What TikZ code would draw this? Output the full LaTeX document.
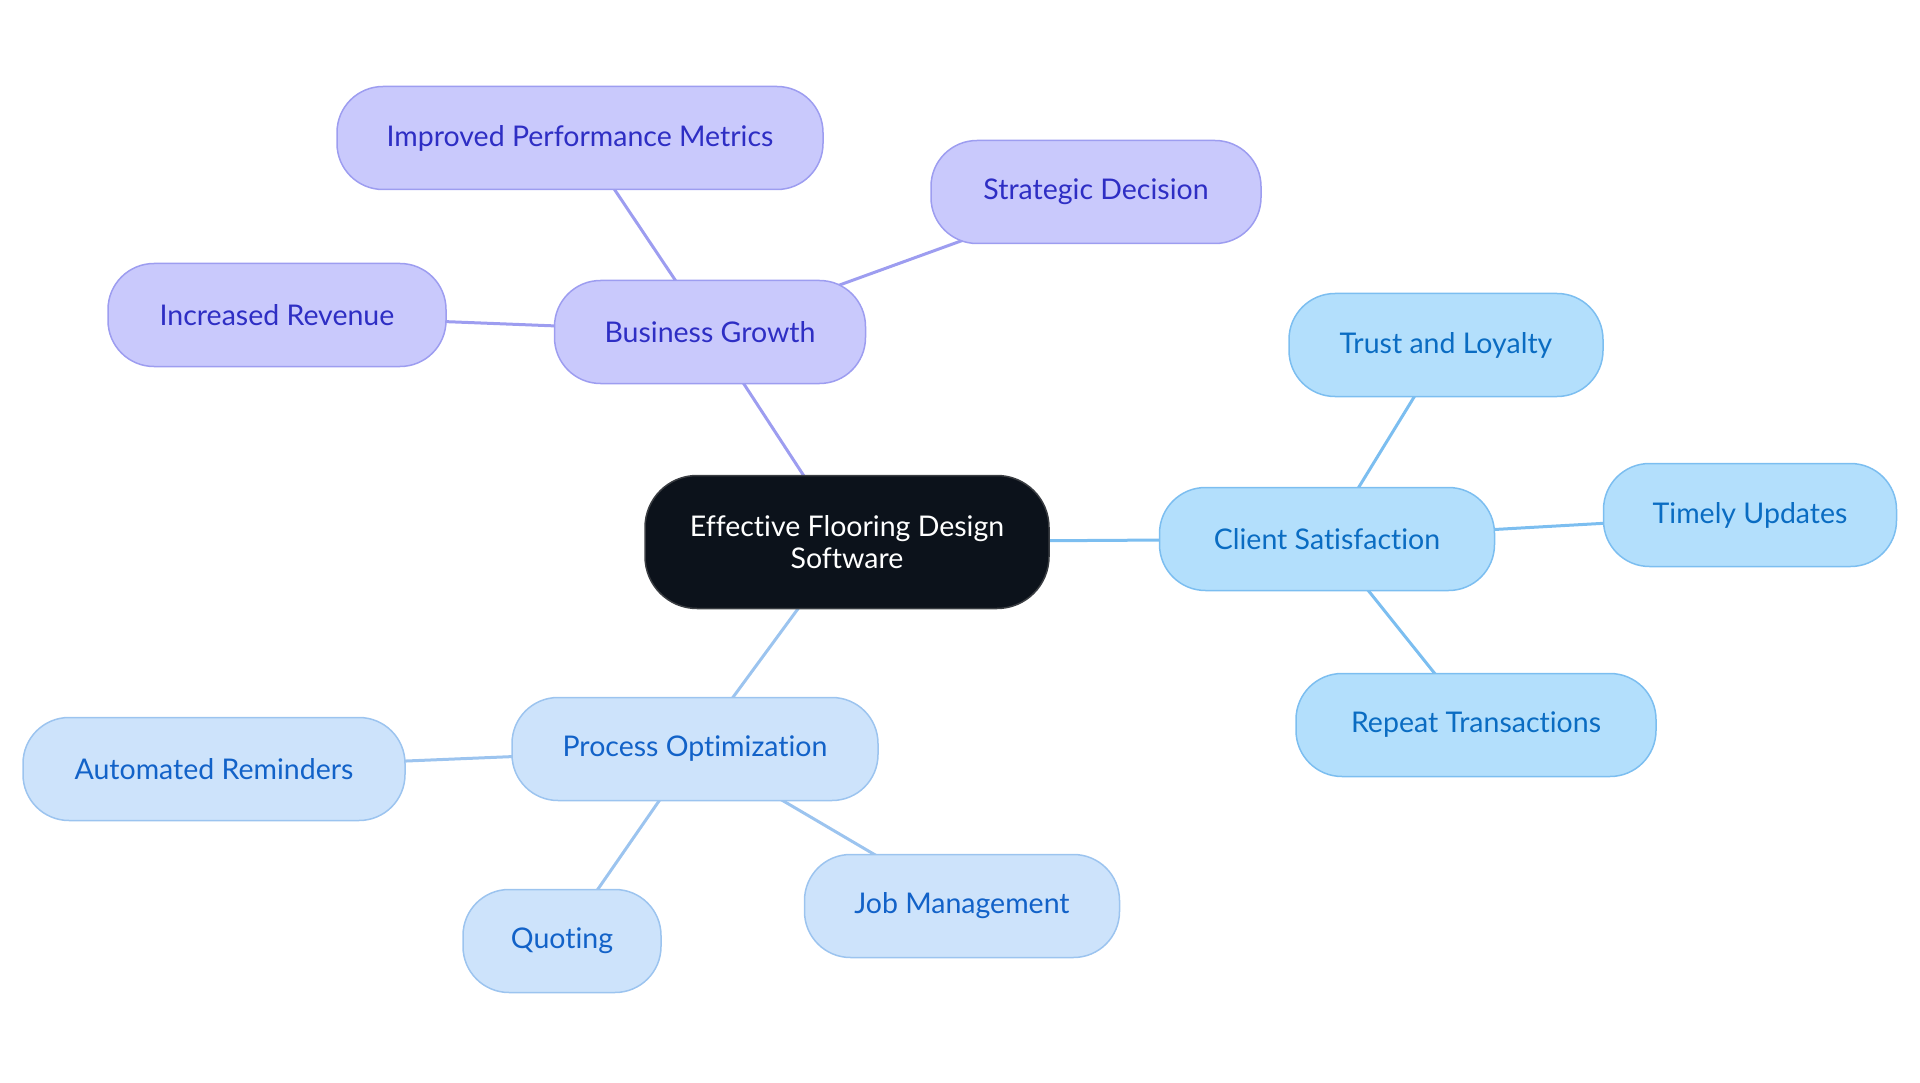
\documentclass[tikz,border=0pt]{standalone}
\usepackage{fontspec}
\setmainfont{Lato}[Ligatures=NoCommon]
\usetikzlibrary{backgrounds}
\definecolor{pfill}{HTML}{C9C9FC}
\definecolor{pline}{HTML}{9D9DF0}
\definecolor{ptext}{HTML}{2E2EC4}
\definecolor{cfill}{HTML}{B3DFFC}
\definecolor{cline}{HTML}{7CBEF0}
\definecolor{ctext}{HTML}{0A6CC2}
\definecolor{ofill}{HTML}{CDE3FB}
\definecolor{oline}{HTML}{9CC4EF}
\definecolor{otext}{HTML}{1262C8}
\definecolor{mfill}{HTML}{0C121B}
\definecolor{mline}{HTML}{3A3D42}
\tikzset{
  base/.style={rounded corners=46pt, line width=1.5pt, minimum height=103pt,
    inner sep=0pt, align=center, font=\fontsize{28.5}{32}\selectfont},
  pnode/.style={base, fill=pfill, draw=pline, text=ptext},
  cnode/.style={base, fill=cfill, draw=cline, text=ctext},
  onode/.style={base, fill=ofill, draw=oline, text=otext},
  mnode/.style={base, fill=mfill, draw=mline, text=white, minimum height=133pt, rounded corners=52pt},
  pedge/.style={draw=pline, line width=3pt},
  cedge/.style={draw=cline, line width=3pt},
  oedge/.style={draw=oline, line width=3pt},
}
\begin{document}
\begin{tikzpicture}[x=1pt,y=-1pt]
\useasboundingbox (0,0) rectangle (1920,1083);
\node[mnode, minimum width=404pt] (m) at (847,542) {Effective Flooring Design\\Software};
\node[pnode, minimum width=311pt] (bg) at (710,332) {Business Growth};
\node[pnode, minimum width=486pt] (ipm) at (580,138) {Improved Performance Metrics};
\node[pnode, minimum width=330pt] (sd) at (1096,192) {Strategic Decision};
\node[pnode, minimum width=338pt] (ir) at (277,315) {Increased Revenue};
\node[cnode, minimum width=335pt] (cs) at (1327,539) {Client Satisfaction};
\node[cnode, minimum width=314pt] (tl) at (1446,345) {Trust and Loyalty};
\node[cnode, minimum width=293pt] (tu) at (1750,515) {Timely Updates};
\node[cnode, minimum width=360pt] (rt) at (1476,725) {Repeat Transactions};
\node[onode, minimum width=366pt] (po) at (695,749) {Process Optimization};
\node[onode, minimum width=382pt] (ar) at (214,769) {Automated Reminders};
\node[onode, minimum width=198pt] (q) at (562,941) {Quoting};
\node[onode, minimum width=315pt] (jm) at (962,906) {Job Management};
\begin{pgfonlayer}{background}
\draw[pedge] (m.center) -- (bg.center);
\draw[pedge] (bg.center) -- (ipm.center);
\draw[pedge] (bg.center) -- (sd.center);
\draw[pedge] (bg.center) -- (ir.center);
\draw[cedge] (m.center) -- (cs.center);
\draw[cedge] (cs.center) -- (tl.center);
\draw[cedge] (cs.center) -- (tu.center);
\draw[cedge] (cs.center) -- (rt.center);
\draw[oedge] (m.center) -- (po.center);
\draw[oedge] (po.center) -- (ar.center);
\draw[oedge] (po.center) -- (q.center);
\draw[oedge] (po.center) -- (jm.center);
\end{pgfonlayer}
\end{tikzpicture}
\end{document}
